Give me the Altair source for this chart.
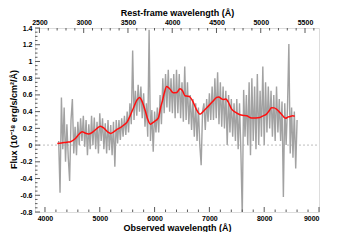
import altair as alt
import pandas as pd

W, H = 284, 184
OBS_DOM = [3818, 9000]
REST_DOM = [2450, 5658]
Y_DOM = [-0.8, 1.4]
FONT = "Liberation Sans"
FRAME = "#5a5a5a"

# grey observed spectrum, sampled every 25 A (observed frame)
spec_wave = list(range(4250, 8601, 25))
spec_flux = [0.05, -0.57, 0.57, -0.05, 0.45, -0.20, 0.25, -0.15, -0.43, 0.30,
             0.55, -0.10, 0.22, -0.12, 0.28, 0.00, 0.32, 0.05, 0.35, -0.02,
             0.30, -0.12, 0.25, -0.05, 0.35, 0.00, 0.33, -0.05, 0.28, -0.10,
             0.38, 0.05, 0.32, -0.05, 0.26, -0.10, 0.30, -0.06, 0.24, -0.12,
             0.28, -0.26, 0.30, 0.02, 0.30, 0.06, 0.32, 0.10, 0.35, 0.12,
             0.40, 0.15, 0.50, 0.25, 1.13, 0.30, 0.65, 0.35, 0.72, 0.40,
             0.70, 0.32, 0.62, 0.22, 0.50, 0.10, 1.38, 0.05, 0.42, -0.08,
             0.40, 0.15, 0.45, 0.15, 0.60, 0.25, 0.80, 0.38, 0.85, 0.45,
             0.90, 0.40, 0.80, 0.38, 0.85, 0.32, 0.90, 0.38, 0.85, 0.32,
             0.75, 0.28, 0.94, 0.30, 0.75, 0.25, 0.60, 0.18, 0.55, 0.10,
             0.50, 0.05, 0.45, 0.00, -0.24, 0.40, 0.50, 0.18, 0.55, 0.28,
             0.62, 0.30, 0.70, 0.30, 0.80, 0.32, 0.87, 0.25, 0.75, 0.22,
             0.70, 0.20, 0.65, 0.00, 0.60, 0.15, 0.55, 0.10, 0.50, 0.05,
             0.55, -0.05, 0.50, -0.09, -0.85, 0.66, 0.10, 0.60, 0.00, 0.75,
             -0.12, 0.80, 0.05, 0.70, -0.05, 0.85, 0.00, 0.65, 0.10, 0.94,
             0.00, 0.75, 0.15, 0.70, 0.20, 0.65, 0.10, 0.60, 0.05, 0.70,
             0.15, 0.55, 0.05, 0.52, -0.62, 0.50, 0.00, 0.45, 1.21, -0.10,
             0.45, -0.15, 0.40, -0.28, 0.30]

# red smooth model
model_wave = [4225, 4300, 4400, 4466, 4550, 4620, 4679, 4730, 4800, 4880,
              4950, 5012, 5080, 5150, 5194, 5260, 5320, 5376, 5440, 5497,
              5560, 5618, 5680, 5727, 5780, 5830, 5880, 5921, 5970, 6012,
              6050, 6072, 6110, 6140, 6180, 6220, 6280, 6340, 6406, 6463,
              6510, 6554, 6600, 6645, 6700, 6760, 6827, 6900, 6981, 7060,
              7133, 7170, 7230, 7260, 7300, 7340, 7406, 7480, 7557, 7620,
              7679, 7770, 7850, 7921, 7980, 8042, 8090, 8133, 8180, 8224,
              8270, 8315, 8360, 8394, 8430, 8466, 8520, 8557]
model_flux = [0.02, 0.025, 0.035, 0.04, 0.075, 0.13, 0.16, 0.145, 0.134, 0.16,
              0.20, 0.225, 0.20, 0.155, 0.14, 0.16, 0.19, 0.21, 0.24, 0.275,
              0.36, 0.45, 0.54, 0.57, 0.51, 0.41, 0.30, 0.25, 0.27, 0.29,
              0.31, 0.33, 0.45, 0.52, 0.63, 0.70, 0.67, 0.625, 0.63, 0.675,
              0.65, 0.59, 0.585, 0.575, 0.52, 0.43, 0.37, 0.41, 0.466, 0.52,
              0.57, 0.575, 0.55, 0.545, 0.55, 0.52, 0.43, 0.39, 0.363, 0.355,
              0.35, 0.325, 0.325, 0.33, 0.35, 0.37, 0.41, 0.447, 0.445, 0.43,
              0.40, 0.37, 0.335, 0.32, 0.335, 0.34, 0.35, 0.345]

obs_major = [4000, 5000, 6000, 7000, 8000, 9000]
obs_minor = [4200, 4400, 4600, 4800, 5200, 5400, 5600, 5800, 6200, 6400, 6600, 6800,
             7200, 7400, 7600, 7800, 8200, 8400, 8600, 8800]
rest_major = [2500, 3000, 3500, 4000, 4500, 5000, 5500]
rest_minor = [2600, 2700, 2800, 2900, 3100, 3200, 3300, 3400, 3600, 3700, 3800, 3900,
              4100, 4200, 4300, 4400, 4600, 4700, 4800, 4900, 5100, 5200, 5300, 5400, 5600]
y_major = [-0.8, -0.6, -0.4, -0.2, 0.0, 0.2, 0.4, 0.6, 0.8, 1.0, 1.2, 1.4]
y_minor = [-0.75, -0.7, -0.65, -0.55, -0.5, -0.45, -0.35, -0.3, -0.25, -0.15, -0.1, -0.05,
           0.05, 0.1, 0.15, 0.25, 0.3, 0.35, 0.45, 0.5, 0.55, 0.65, 0.7, 0.75,
           0.85, 0.9, 0.95, 1.05, 1.1, 1.15, 1.25, 1.3, 1.35]

obs_scale = alt.Scale(domain=OBS_DOM, nice=False, zero=False)
rest_scale = alt.Scale(domain=REST_DOM, nice=False, zero=False)
y_scale = alt.Scale(domain=Y_DOM, nice=False, zero=False)

lab = dict(labelFont=FONT, labelFontSize=7, labelFontWeight="bold", labelColor="black",
           titleFont=FONT, titleFontSize=9, titleFontWeight="bold", titleColor="black",
           ticks=False, domain=False, grid=False)

spec_df = pd.DataFrame({"w": spec_wave, "f": spec_flux})
model_df = pd.DataFrame({"w": model_wave, "f": model_flux})

zero = alt.Chart(pd.DataFrame({"y": [0.0]})).mark_rule(
    color="#bdbdbd", strokeDash=[2, 2], strokeWidth=1
).encode(x=alt.value(0), x2=alt.value(W), y=alt.Y("y:Q", scale=y_scale, axis=None))

spec = alt.Chart(spec_df).mark_line(color="#a2a2a2", strokeWidth=1.4, clip=True).encode(
    x=alt.X("w:Q", scale=obs_scale,
            axis=alt.Axis(orient="bottom", values=obs_major, format="d",
                          title="Observed wavelength (Å)", labelPadding=2,
                          titlePadding=2, **lab)),
    y=alt.Y("f:Q", scale=y_scale, axis=None),
)

red = alt.Chart(model_df).mark_line(color="#ff1010", strokeWidth=1.5, interpolate="monotone").encode(
    x=alt.X("w:Q", scale=obs_scale, axis=None),
    y=alt.Y("f:Q", scale=y_scale, axis=None),
)

def xticks(vals, scale, y0, y1):
    return alt.Chart(pd.DataFrame({"v": vals})).mark_rule(color=FRAME, strokeWidth=1).encode(
        x=alt.X("v:Q", scale=scale, axis=None), y=alt.value(y0), y2=alt.value(y1))

bot_major = xticks(obs_major, obs_scale, H, H - 5)
bot_minor = xticks(obs_minor, obs_scale, H, H - 2.5)
top_minor = xticks(rest_minor, rest_scale, 0, 2.5)
top_major = alt.Chart(pd.DataFrame({"v": rest_major})).mark_rule(color=FRAME, strokeWidth=1).encode(
    x=alt.X("v:Q", scale=rest_scale,
            axis=alt.Axis(orient="top", values=rest_major, format="d",
                          title="Rest-frame wavelength (Å)", labelPadding=3,
                          titlePadding=1, **lab)),
    y=alt.value(0), y2=alt.value(5))

left_major = alt.Chart(pd.DataFrame({"v": y_major})).mark_rule(color=FRAME, strokeWidth=1).encode(
    y=alt.Y("v:Q", scale=y_scale,
            axis=alt.Axis(orient="left", values=y_major,
                          labelExpr="datum.value < 0 ? '-' + format(-datum.value, '~g') : format(datum.value, '~g')",
                          title="Flux (10⁻¹⁸ erg/s/cm²/Å)", labelPadding=3,
                          titleAngle=270, titleX=-21.5, titleY=91,
                          titleAlign="center", titleBaseline="middle", **lab)),
    x=alt.value(0), x2=alt.value(5))
left_minor = alt.Chart(pd.DataFrame({"v": y_minor})).mark_rule(color=FRAME, strokeWidth=1).encode(
    y=alt.Y("v:Q", scale=y_scale, axis=None), x=alt.value(0), x2=alt.value(2.5))

chart = alt.layer(
    zero, spec, red, bot_major, bot_minor, top_major, top_minor, left_major, left_minor
).resolve_scale(x="independent").resolve_axis(y="independent").properties(
    width=W, height=H,
    autosize=alt.AutoSizeParams(type="none"),
    padding={"left": 27, "top": 20, "right": 28, "bottom": 20},
).configure_view(stroke=FRAME, strokeWidth=1).configure(background="white")

chart.save("out.html", embed_options={"renderer": "svg", "actions": False})
